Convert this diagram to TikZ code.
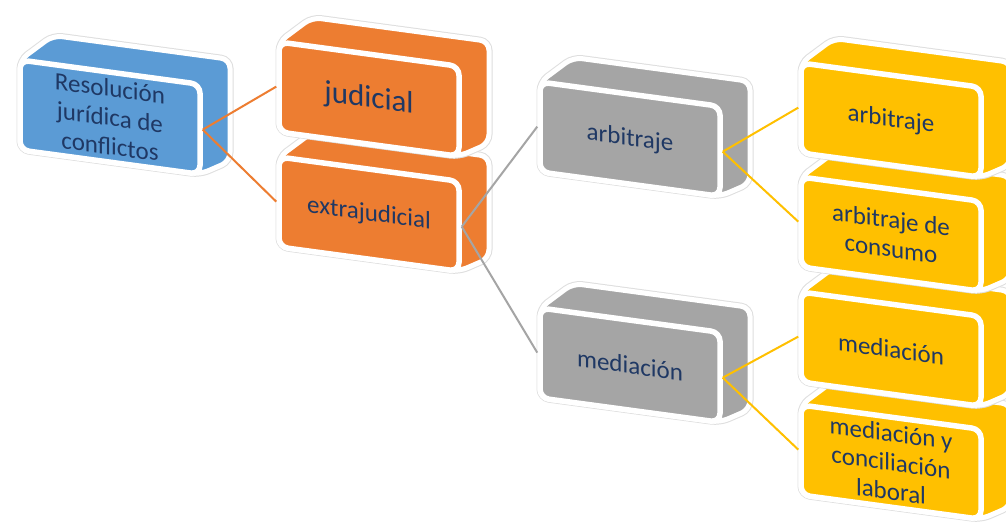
\documentclass[tikz,border=0pt]{standalone}
\usepackage{fontspec}
\setmainfont{Carlito}
\definecolor{boxblue}{HTML}{5B9BD5}
\definecolor{boxorange}{HTML}{ED7D31}
\definecolor{boxgray}{HTML}{A5A5A5}
\definecolor{boxyellow}{HTML}{FFC000}
\definecolor{navytext}{HTML}{1F3864}
\tikzset{
  hull/.style={fill=#1, draw=white, line width=5pt, line join=round,
    rounded corners=9pt, preaction={draw=black!13, line width=7pt}},
  face/.style={fill=#1, draw=white, line width=5.5pt, rounded corners=9pt,
    minimum width=180pt, minimum height=90pt, inner sep=0pt,
    transform shape, text=navytext, align=center},
  conn/.style={line width=2pt, draw=#1},
  txt/.style={font=\fontsize{25}{29}\selectfont},
  bigtxt/.style={font=\fontsize{31}{36}\selectfont}
}
% A slanted 3D block: #1 name, #2 x, #3 y (top left of front face), #4 colour, #5 text style, #6 text
\newcommand{\solidblock}[6]{%
  \begin{scope}[shift={(#2,#3)}, yslant=-0.135]
    \path[hull=#4] (0,0) -- (33,-29) -- (210,-29) -- (210,73) -- (180,90) -- (0,90) -- cycle;
    \node[face=#4, #5] (#1) at (90,45) {#6};
  \end{scope}}
\begin{document}
\begin{tikzpicture}[x=1pt, y=-1pt]
  \useasboundingbox (0,0) rectangle (1006,522);
  \clip (0,0) rectangle (1006,522);
  \fill[white] (0,0) rectangle (1006,522);

  % root
  \solidblock{res}{20}{60}{boxblue}{txt}{Resolución\\jurídica de\\conflictos}

  % first level
  \solidblock{ext}{279}{157}{boxorange}{txt}{extrajudicial}
  \solidblock{jud}{279}{42}{boxorange}{bigtxt}{judicial}

  % second level
  \solidblock{arb}{540}{82}{boxgray}{txt}{arbitraje}
  \solidblock{med}{540}{308}{boxgray}{txt}{mediación}

  % third level
  \solidblock{ylab}{801}{405}{boxyellow}{txt}{mediación y\\conciliación\\laboral}
  \solidblock{ymed}{801}{292}{boxyellow}{txt}{mediación}
  \solidblock{ycons}{801}{177}{boxyellow}{txt}{arbitraje de\\consumo}
  \solidblock{yarb}{801}{63}{boxyellow}{txt}{arbitraje}

  % connectors
  \draw[conn=boxorange] (res.east) -- (jud.west);
  \draw[conn=boxorange] (res.east) -- (ext.west);
  \draw[conn=boxgray] (ext.east) -- (arb.west);
  \draw[conn=boxgray] (ext.east) -- (med.west);
  \draw[conn=boxyellow] (arb.east) -- (yarb.west);
  \draw[conn=boxyellow] (arb.east) -- (ycons.west);
  \draw[conn=boxyellow] (med.east) -- (ymed.west);
  \draw[conn=boxyellow] (med.east) -- (ylab.west);
\end{tikzpicture}
\end{document}
